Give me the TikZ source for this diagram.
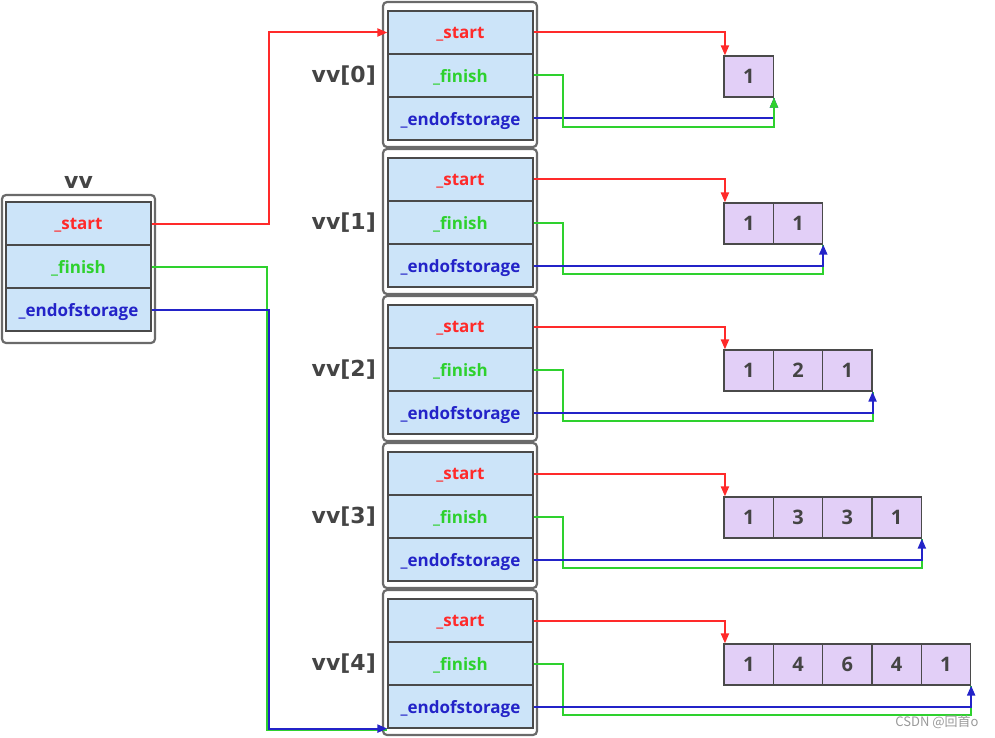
\documentclass[tikz,border=0pt]{standalone}
\usepackage{fontspec}
\setsansfont{Open Sans}
\newfontfamily\labelfont{DejaVu Sans}
\newfontfamily\cjkfont{Noto Sans CJK SC}
\usetikzlibrary{arrows.meta}
\definecolor{cellblue}{HTML}{CCE4F9}
\definecolor{celllav}{HTML}{E2CFF7}
\definecolor{cellline}{HTML}{4A4A4A}
\definecolor{framegray}{HTML}{6A6A6A}
\definecolor{ptrred}{HTML}{FF2A2A}
\definecolor{ptrgreen}{HTML}{2ED12E}
\definecolor{ptrblue}{HTML}{2323C8}
\definecolor{txtgray}{HTML}{444444}

\begin{document}
\begin{tikzpicture}[x=1pt, y=-1pt, >={Triangle[length=10pt, width=8pt]},
  cell/.style={draw=cellline, line width=1.2pt, fill=cellblue, minimum width=145pt,
    minimum height=43pt, inner sep=0pt, text depth=0pt,
    font=\sffamily\bfseries\fontsize{17}{19}\selectfont},
  elem/.style={draw=cellline, line width=1.2pt, fill=celllav, minimum width=49.3pt,
    minimum height=41pt, inner sep=0pt, text=txtgray, font=\sffamily\bfseries\fontsize{20}{22}\selectfont},
  frame/.style={draw=framegray, line width=2.2pt, rounded corners=4pt},
  vvlbl/.style={text=txtgray, inner sep=1pt, font=\labelfont\bfseries\fontsize{22}{24}\selectfont},
  ptr/.style={line width=2pt}]

\useasboundingbox (0,0) rectangle (995,738);

% =====================================================
% Outer vector vv
% =====================================================
\draw[frame] (2,195) rectangle (155,343);
\node[cell, text=ptrred] (vs) at (78.5,223.5) {\_start};
\node[cell, text=ptrgreen] (vf) at (78.5,266.5) {\_finish};
\node[cell, text=ptrblue] (ve) at (78.5,309.5) {\_endofstorage};
\node[vvlbl] (vvname) at (78.5,182) {vv};

% =====================================================
% Inner vectors vv[0] .. vv[4] with their arrays
% =====================================================
\foreach \k/\n/\row in {0/1/{1}, 1/2/{1,1}, 2/3/{1,2,1}, 3/4/{1,3,3,1}, 4/5/{1,4,6,4,1}}{
  \pgfmathsetmacro\yo{147*\k}
  \pgfmathtruncatemacro\last{\n-1}
  \draw[frame] (383,2+\yo) rectangle (537,147+\yo);
  \node[cell, text=ptrred] (s\k) at (460.5,32.5+\yo) {\_start};
  \node[cell, text=ptrgreen] (f\k) at (460.5,75.5+\yo) {\_finish};
  \node[cell, text=ptrblue] (e\k) at (460.5,118.5+\yo) {\_endofstorage};
  \node[vvlbl, anchor=east] (l\k) at (377,75.5+\yo) {vv[\k]};
  % array elements
  \foreach \v [count=\j from 0] in \row
    \node[elem] (a\k-\j) at (748.7+49.3*\j,76.5+\yo) {\v};
  % pointers
  \draw[ptr, ptrred, ->] (s\k.east) -| ([xshift=1.5pt]a\k-0.north west);
  \draw[ptr, ptrgreen] (f\k.east) -| (563,127+\yo) -| (a\k-\last.south east);
  \draw[ptr, ptrblue, ->] (e\k.east) -| (a\k-\last.south east);
}

% vv[0]: green head on top
\draw[ptr, ptrgreen, ->] (f0.east) -| (563,127) -| (a0-0.south east);

% =====================================================
% Pointers of vv
% =====================================================
\draw[ptr, ptrred, ->] (vs.east) -- ++(117,0) |- (s0.west);
\draw[ptr, ptrgreen] (vf.east) -- ++(115.5,0) |- ([yshift=-1.5pt]e4.south west);
\draw[ptr, ptrblue, ->] (ve.east) -- ++(117,0) |- (e4.south west);

% watermark
\node[font=\cjkfont\fontsize{13}{15}\selectfont, text=gray!80, anchor=east] (mark) at (982,722) {CSDN @回首o};

\end{tikzpicture}
\end{document}
